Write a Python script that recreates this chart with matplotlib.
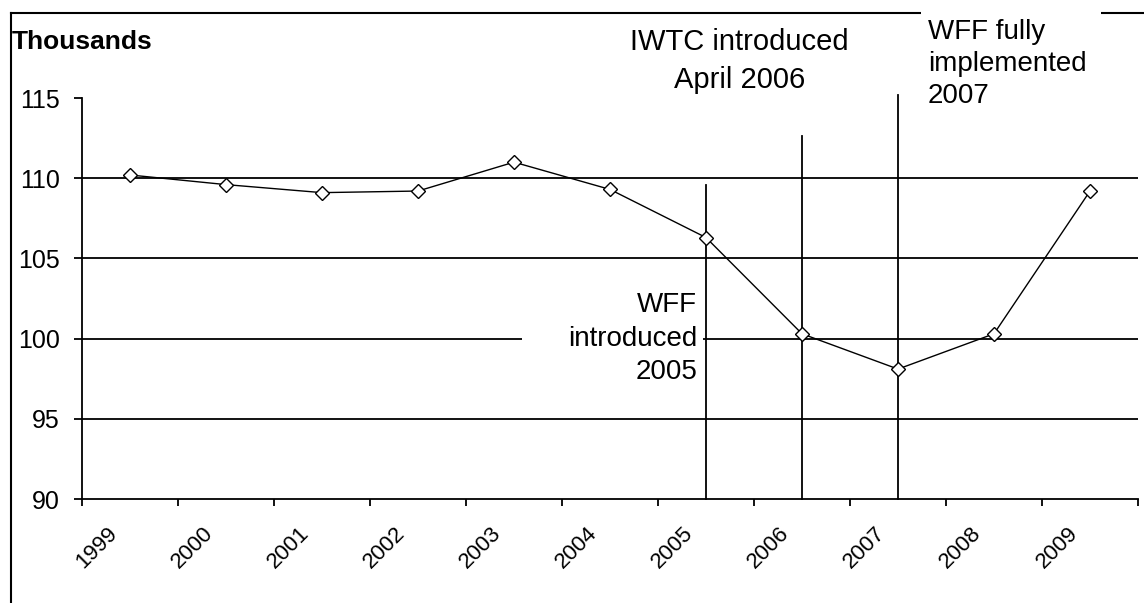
import numpy as np
import matplotlib
matplotlib.use("Agg")
import matplotlib.pyplot as plt
from matplotlib.lines import Line2D
from matplotlib.patches import Rectangle
from matplotlib.transforms import ScaledTranslation

plt.rcParams["font.family"] = ["Liberation Sans", "DejaVu Sans"]

# ----------
# Chart data
# ----------

years = ["1999", "2000", "2001", "2002", "2003", "2004",
         "2005", "2006", "2007", "2008", "2009"]
claimants = [110.2, 109.6, 109.1, 109.2, 111.0, 109.3,
             106.3, 100.3, 98.1, 100.3, 109.2]

# policy markers: year index, top of the marker line
event_idx = [6, 7, 8]
event_top = [109.55, 112.6, 115.2]

W, H = 1144, 603


def px(x, y):
    """pixel position (from top-left) to figure fraction"""
    return x / W, 1 - y / H


fig = plt.figure(figsize=(W / 100, H / 100), dpi=100)
left, bottom = px(82, 499)
right, top = px(1138, 98)
ax = fig.add_axes([left, bottom, right - left, top - bottom])

x = np.arange(len(years))
ax.plot(x, claimants, color="black", lw=1.0, marker="D", ms=7.5,
        mfc="white", mec="black", mew=1.0, zorder=4)

for i, ytop in zip(event_idx, event_top):
    ax.plot([x[i], x[i]], [90, ytop], color="black", lw=1.3,
            clip_on=False, zorder=3)

ax.set_xlim(-0.5, len(years) - 0.5)
ax.set_ylim(90, 115)
ax.set_yticks([90, 95, 100, 105, 110, 115])
ax.set_axisbelow(True)
for g in (95, 100, 105, 110):
    ax.axhline(g, color="black", lw=1.3, zorder=0.5)

# tick marks sit between categories, labels at the category centres
ax.set_xticks(np.arange(len(years) + 1) - 0.5)
ax.set_xticklabels([])
ax.set_xticks(x, minor=True)
ax.set_xticklabels(years, minor=True, rotation=45, ha="right",
                   rotation_mode="anchor", fontsize=16)
ax.tick_params(axis="x", which="major", direction="out", length=5, width=1.3)
ax.tick_params(axis="x", which="minor", length=0, pad=17)
ax.tick_params(axis="y", direction="out", length=6, width=1.3,
               labelsize=18, pad=10)
shift = ScaledTranslation(-23 / 100, 0, fig.dpi_scale_trans)
for lab in ax.get_xticklabels(minor=True):
    lab.set_transform(lab.get_transform() + shift)

for side in ("top", "right"):
    ax.spines[side].set_visible(False)
for side in ("left", "bottom"):
    ax.spines[side].set_linewidth(1.3)

# white text box hiding the 100 gridline
ax.add_patch(Rectangle((4.08, 96.8), 1.89, 5.5, facecolor="white",
                       edgecolor="none", zorder=1))
ax.text(5.91, 100, "WFF\nintroduced\n2005", ha="right", va="center",
        multialignment="right", fontsize=20, linespacing=1.37, zorder=2)

ax.text(6.35, 117.3, "IWTC introduced\nApril 2006", ha="center",
        va="center", multialignment="center", fontsize=21,
        linespacing=1.47, clip_on=False)

# outer chart frame
fx0, fy0 = px(11, 13)
fig.add_artist(Line2D([fx0, fx0], [fy0, 0], color="black", lw=1.5, zorder=1))
fig.add_artist(Line2D([fx0, 1], [fy0, fy0], color="black", lw=1.5, zorder=1))
bx0, by0 = px(921, 105)
bx1, by1 = px(1101, 8)
fig.add_artist(Rectangle((bx0, by0), bx1 - bx0, by1 - by0,
                         transform=fig.transFigure, facecolor="white",
                         edgecolor="none", zorder=2))
tx, ty = px(928, 64)
fig.text(tx, ty, "WFF fully\nimplemented\n2007", ha="left", va="center",
         fontsize=20, linespacing=1.29, zorder=3)

lx, ly = px(12, 42)
fig.text(lx, ly, "Thousands", ha="left", va="center", fontsize=19,
         fontweight="bold")

fig.savefig("out.png", dpi=100, facecolor="white")
